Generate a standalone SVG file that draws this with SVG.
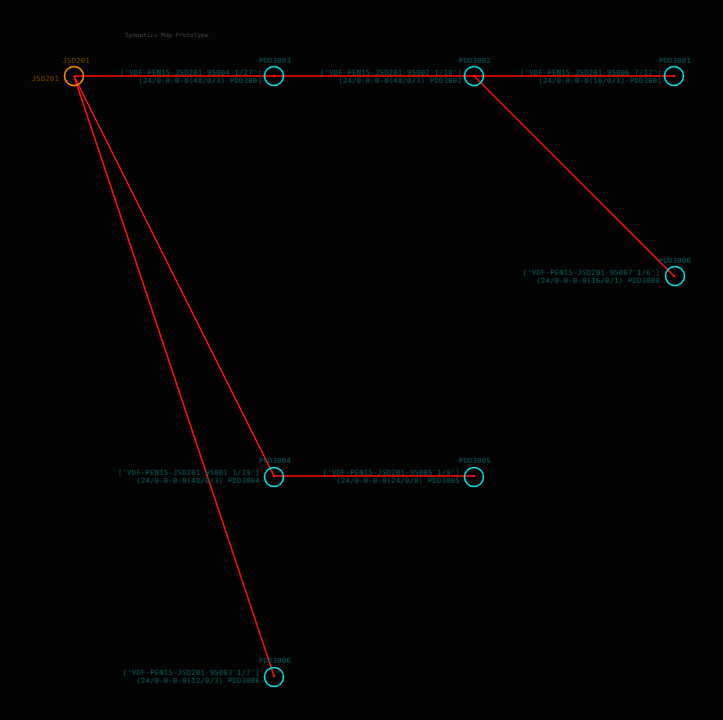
<svg xmlns="http://www.w3.org/2000/svg" width="723" height="720" viewBox="0 0 723 720">
<style>
.bg{fill:#030303}
.title{font-family:"DejaVu Sans Mono","Liberation Mono",monospace;font-size:6px;fill:#474747}
.lbl{font-family:"DejaVu Sans Mono","Liberation Mono",monospace;font-size:7.2px;letter-spacing:0.25px;fill:#085e5e}
.lblo{font-family:"DejaVu Sans Mono","Liberation Mono",monospace;font-size:7.2px;letter-spacing:0.25px;fill:#7a4600}
.node{fill:none;stroke:#00e0e0;stroke-width:1.6}
.root{fill:none;stroke:#ff8c00;stroke-width:1.6}
.edge{stroke:#ff1010;stroke-width:1.5;fill:none}
.dot{fill:#ff1010}
</style>
<rect class="bg" x="0" y="0" width="723" height="720"/>
<text class="title" x="125" y="37">Synoptics Map Prototype</text>
<g id="connectors">
<line class="edge" x1="74" y1="76" x2="274" y2="76"/>
<line class="edge" x1="274" y1="76" x2="474" y2="76"/>
<line class="edge" x1="474" y1="76" x2="674" y2="76"/>
<line class="edge" x1="474" y1="76" x2="674" y2="276"/>
<line class="edge" x1="74" y1="76" x2="274" y2="476"/>
<line class="edge" x1="274" y1="476" x2="474" y2="476"/>
<line class="edge" x1="74" y1="76" x2="274" y2="676"/>
<text class="lbl" x="262" y="74.5" text-anchor="end">['VDF-PEN15-JSD201-95004 1/27']</text>
<text class="lbl" x="262" y="82.8" text-anchor="end">(24/0-0-0-0(48/0/3) PDD3003</text>
<text class="lbl" x="462" y="74.5" text-anchor="end">['VDF-PEN15-JSD201-95002 1/18']</text>
<text class="lbl" x="462" y="82.8" text-anchor="end">(24/0-0-0-0(48/0/3) PDD3002</text>
<text class="lbl" x="662" y="74.5" text-anchor="end">['VDF-PEN15-JSD201-95006 7/12']</text>
<text class="lbl" x="662" y="82.8" text-anchor="end">(24/0-0-0-0(16/0/1)-PDD3001</text>
<text class="lbl" x="660" y="274.5" text-anchor="end">['VDF-PEN15-JSD201-95007 1/6']</text>
<text class="lbl" x="660" y="282.8" text-anchor="end">(24/0-0-0-0(16/0/1) PDD3000</text>
<text class="lbl" x="260" y="474.5" text-anchor="end">['VDF-PEN15-JSD201-95001 1/19']</text>
<text class="lbl" x="260" y="482.8" text-anchor="end">(24/0-0-0-0(48/0/3) PDD3004</text>
<text class="lbl" x="460" y="474.5" text-anchor="end">['VDF-PEN15-JSD201-95005 1/9']</text>
<text class="lbl" x="460" y="482.8" text-anchor="end">(24/0-0-0-0(24/0/0) PDD3005</text>
<text class="lbl" x="260" y="674.5" text-anchor="end">['VDF-PEN15-JSD201-95003 1/7']</text>
<text class="lbl" x="260" y="682.8" text-anchor="end">(24/0-0-0-0(12/0/3) PDD3006</text>
</g>
<g id="JSD201">
<circle class="root" cx="74" cy="76" r="9.5"/>
<text class="lblo" x="76" y="63" text-anchor="middle">JSD201</text>
<text class="lblo" x="59" y="81" text-anchor="end">JSD201</text>
</g>
<g id="PDD3003">
<circle class="node" cx="274" cy="76" r="9.5"/>
<circle class="dot" cx="274" cy="76" r="1.3"/>
<text class="lbl" x="275" y="63" text-anchor="middle">PDD3003</text>
</g>
<g id="PDD3002">
<circle class="node" cx="474" cy="76" r="9.5"/>
<circle class="dot" cx="474" cy="76" r="1.3"/>
<text class="lbl" x="475" y="63" text-anchor="middle">PDD3002</text>
</g>
<g id="PDD3001">
<circle class="node" cx="674" cy="76" r="9.5"/>
<circle class="dot" cx="674" cy="76" r="1.3"/>
<text class="lbl" x="675" y="63" text-anchor="middle">PDD3001</text>
</g>
<g id="PDD3000">
<circle class="node" cx="675" cy="276" r="9.5"/>
<circle class="dot" cx="674" cy="276" r="1.3"/>
<text class="lbl" x="675" y="263" text-anchor="middle">PDD3000</text>
</g>
<g id="PDD3004">
<circle class="node" cx="274" cy="477" r="9.5"/>
<circle class="dot" cx="274" cy="476" r="1.3"/>
<text class="lbl" x="275" y="463" text-anchor="middle">PDD3004</text>
</g>
<g id="PDD3005">
<circle class="node" cx="474" cy="477" r="9.5"/>
<circle class="dot" cx="474" cy="476" r="1.3"/>
<text class="lbl" x="475" y="463" text-anchor="middle">PDD3005</text>
</g>
<g id="PDD3006">
<circle class="node" cx="274" cy="677" r="9.5"/>
<circle class="dot" cx="274" cy="676" r="1.3"/>
<text class="lbl" x="275" y="663" text-anchor="middle">PDD3006</text>
</g>
</svg>
